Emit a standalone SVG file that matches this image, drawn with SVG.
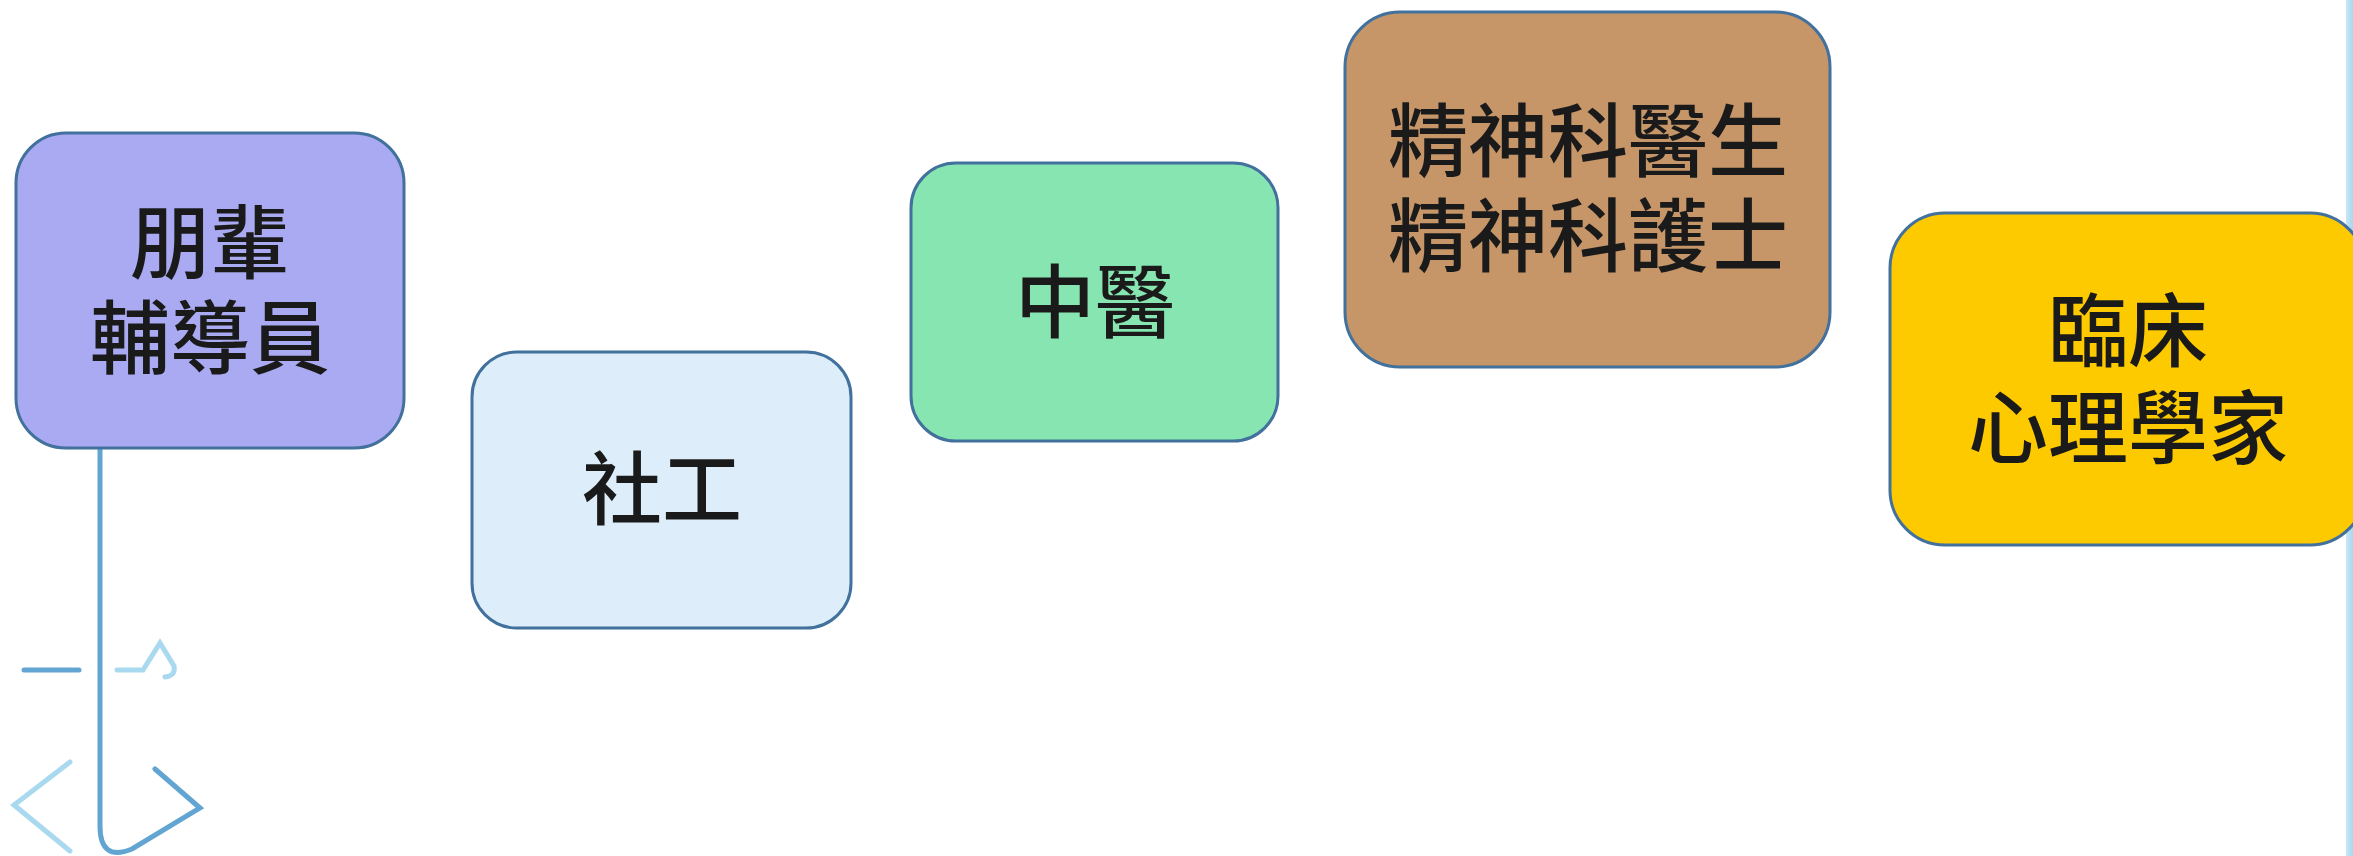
<svg xmlns="http://www.w3.org/2000/svg" width="2353" height="856" viewBox="0 0 2353 856">
<style>
.box{stroke:#41719c;stroke-width:3}
.lbl{font-family:"Noto Sans CJK TC","Noto Sans CJK SC",sans-serif;font-size:80px;font-weight:500;fill:#1a1a1a;text-anchor:middle}
.dk{fill:none;stroke:#62a5d2;stroke-width:5;stroke-linecap:round;stroke-linejoin:miter}
.lt{fill:none;stroke:#a9d9ef;stroke-width:5;stroke-linecap:round;stroke-linejoin:miter}
</style>
<defs>
<linearGradient id="strip" x1="0" y1="0" x2="1" y2="0">
<stop offset="0" stop-color="#c7e7f7"/>
<stop offset="1" stop-color="#a9d6f0"/>
</linearGradient>
</defs>
<rect x="0" y="0" width="2353" height="856" fill="#ffffff"/>
<rect x="2346" y="0" width="7" height="856" fill="url(#strip)"/>
<g id="connectors">
<path class="dk" d="M100,448 L100,826 Q100,862 132,849 L200,808 L155,769"/>
<path class="dk" d="M24,670 L79,670"/>
<path class="lt" d="M117,670 L143,670 L160,643 L174,666 Q176,676 165,677"/>
<path class="lt" d="M70,762 L14,805 L70,851"/>
</g>
<g id="node-peer">
<rect class="box" x="16" y="133" width="388" height="315" rx="50" fill="#aaaaf2"/>
<text class="lbl" x="210" y="272">朋輩</text>
<text class="lbl" x="210" y="367">輔導員</text>
</g>
<g id="node-social">
<rect class="box" x="472" y="352" width="379" height="276" rx="45" fill="#ddeefa"/>
<text class="lbl" x="662" y="518">社工</text>
</g>
<g id="node-tcm">
<rect class="box" x="911" y="163" width="367" height="278" rx="45" fill="#87e5b1"/>
<text class="lbl" x="1095" y="331">中醫</text>
</g>
<g id="node-psych">
<rect class="box" x="1345" y="12" width="485" height="355" rx="55" fill="#c69669"/>
<text class="lbl" x="1588" y="170">精神科醫生</text>
<text class="lbl" x="1588" y="265">精神科護士</text>
</g>
<g id="node-clinical">
<rect class="box" x="1890" y="213" width="475" height="332" rx="55" fill="#fdca00"/>
<text class="lbl" x="2128" y="360">臨床</text>
<text class="lbl" x="2128" y="457">心理學家</text>
</g>
</svg>
